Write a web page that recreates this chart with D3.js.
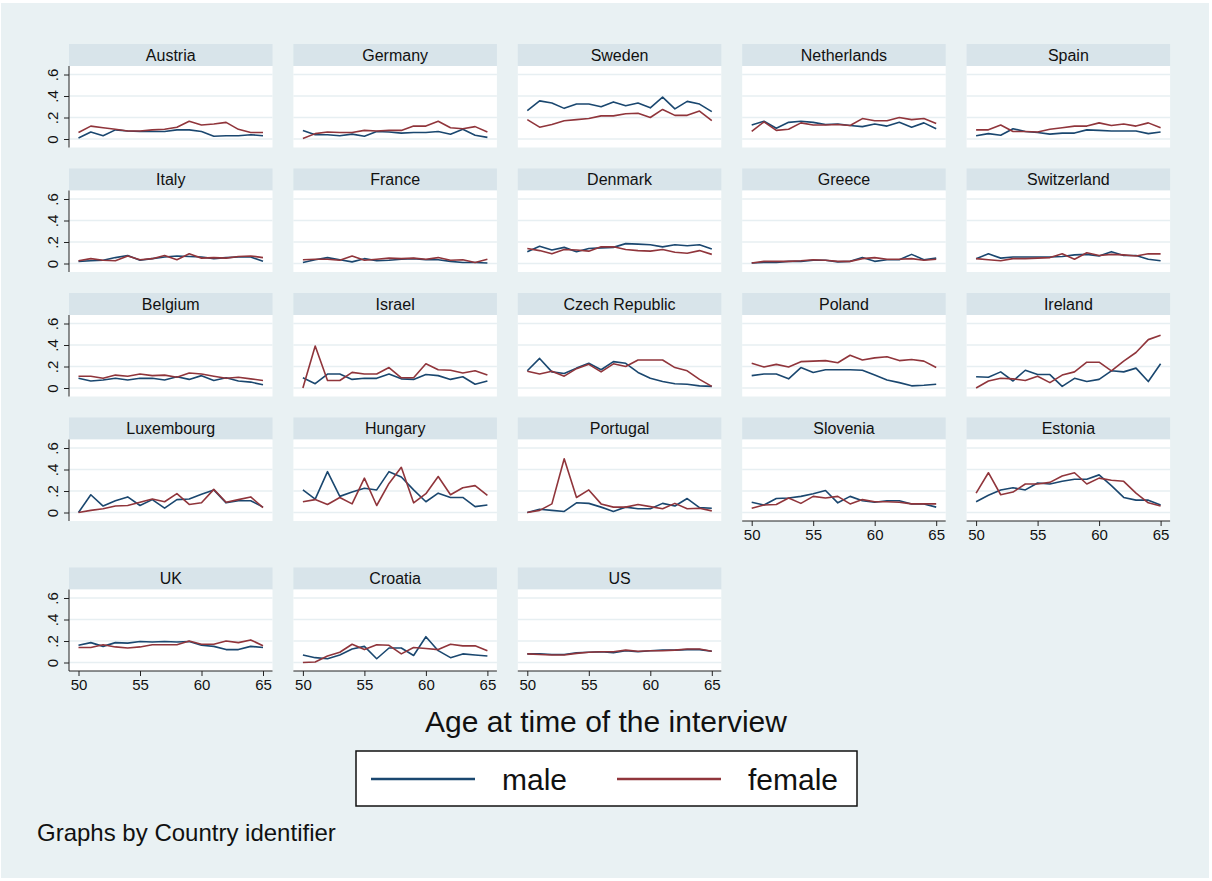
<!DOCTYPE html>
<html>
<head>
<meta charset="utf-8">
<script src="https://cdn.jsdelivr.net/npm/d3@7"></script>
<style>
  html, body { margin: 0; padding: 0; background: #ffffff; }
  svg { display: block; font-family: "Liberation Sans", Arial, sans-serif; }
</style>
</head>
<body>
<svg id="chart" width="1212" height="881"></svg>
<script>
// Share of respondents by age, male vs female, one small panel per country
const ages = [50, 51, 52, 53, 54, 55, 56, 57, 58, 59, 60, 61, 62, 63, 64, 65];

const countries = [
  "Austria", "Germany", "Sweden", "Netherlands", "Spain",
  "Italy", "France", "Denmark", "Greece", "Switzerland",
  "Belgium", "Israel", "Czech Republic", "Poland", "Ireland",
  "Luxembourg", "Hungary", "Portugal", "Slovenia", "Estonia",
  "UK", "Croatia", "US"
];

const male = [
  [.01,.065,.03,.085,.075,.07,.07,.07,.085,.085,.07,.025,.03,.03,.04,.03],        // Austria
  [.08,.04,.04,.03,.045,.025,.07,.065,.055,.06,.06,.07,.045,.09,.035,.015],       // Germany
  [.265,.355,.335,.285,.325,.325,.30,.345,.31,.335,.29,.39,.28,.35,.325,.255],    // Sweden
  [.13,.165,.10,.155,.165,.155,.135,.14,.125,.115,.14,.12,.155,.11,.15,.095],     // Netherlands
  [.03,.05,.035,.095,.07,.06,.045,.055,.055,.085,.08,.075,.075,.075,.05,.065],    // Spain
  [.02,.025,.03,.055,.075,.03,.045,.06,.07,.065,.06,.045,.055,.06,.06,.02],       // Italy
  [.01,.035,.055,.035,.015,.045,.025,.03,.04,.045,.035,.035,.02,.01,.01,.005],    // France
  [.11,.16,.125,.15,.11,.14,.145,.15,.185,.18,.175,.155,.175,.165,.175,.135],     // Denmark
  [.005,.01,.01,.02,.02,.03,.03,.015,.02,.055,.02,.035,.035,.085,.035,.05],       // Greece
  [.045,.09,.05,.06,.06,.06,.06,.065,.08,.085,.07,.11,.075,.075,.04,.025],        // Switzerland
  [.09,.065,.075,.09,.075,.09,.09,.075,.105,.08,.115,.07,.095,.065,.055,.03],     // Belgium
  [.095,.04,.13,.13,.08,.09,.09,.13,.085,.08,.125,.115,.08,.105,.035,.065],       // Israel
  [.16,.275,.15,.135,.185,.23,.17,.245,.23,.145,.09,.06,.04,.035,.02,.015],       // Czech Republic
  [.115,.13,.13,.085,.19,.145,.17,.17,.17,.165,.12,.075,.05,.02,.025,.035],       // Poland
  [.105,.10,.15,.065,.165,.125,.125,.015,.09,.06,.08,.16,.15,.185,.06,.225],      // Ireland
  [0,.165,.06,.11,.145,.065,.12,.04,.12,.125,.17,.21,.09,.11,.11,.05],            // Luxembourg
  [.21,.125,.38,.15,.19,.225,.21,.38,.33,.21,.10,.18,.14,.14,.055,.07],           // Hungary
  [0,.03,.02,.01,.09,.085,.05,.01,.05,.035,.035,.085,.06,.13,.045,.04],           // Portugal
  [.095,.07,.13,.135,.15,.175,.205,.09,.15,.11,.095,.11,.11,.08,.08,.05],         // Slovenia
  [.10,.16,.21,.23,.21,.275,.265,.29,.31,.31,.35,.25,.14,.115,.115,.07],          // Estonia
  [.16,.185,.15,.185,.18,.195,.19,.195,.19,.195,.16,.15,.12,.12,.15,.14],         // UK
  [.07,.045,.035,.07,.125,.15,.035,.135,.135,.065,.24,.11,.045,.08,.07,.06],      // Croatia
  [.08,.08,.075,.075,.09,.095,.10,.09,.11,.10,.11,.115,.115,.12,.12,.105]         // US
];

const female = [
  [.06,.12,.105,.09,.075,.075,.085,.09,.11,.165,.13,.14,.155,.09,.06,.06],        // Austria
  [.005,.05,.065,.06,.06,.08,.075,.08,.08,.12,.12,.165,.105,.095,.115,.065],      // Germany
  [.18,.11,.135,.17,.18,.19,.215,.215,.235,.24,.20,.275,.22,.22,.26,.17],         // Sweden
  [.07,.16,.08,.09,.15,.13,.13,.135,.125,.19,.17,.17,.20,.18,.19,.145],           // Netherlands
  [.085,.085,.13,.07,.07,.065,.09,.105,.12,.12,.15,.125,.14,.12,.15,.105],        // Spain
  [.025,.045,.03,.025,.07,.035,.045,.075,.035,.09,.05,.055,.05,.065,.07,.055],    // Italy
  [.035,.04,.04,.03,.07,.03,.04,.05,.045,.05,.04,.055,.03,.035,.01,.04],          // France
  [.14,.12,.09,.13,.125,.115,.155,.155,.13,.12,.115,.13,.105,.095,.12,.085],      // Denmark
  [.005,.02,.02,.02,.025,.035,.03,.02,.02,.045,.055,.04,.04,.045,.03,.04],        // Greece
  [.045,.035,.025,.045,.045,.05,.055,.09,.04,.10,.075,.085,.08,.07,.09,.09],      // Switzerland
  [.11,.11,.09,.12,.11,.13,.115,.12,.10,.14,.13,.11,.09,.10,.085,.07],            // Belgium
  [0,.39,.07,.07,.145,.13,.13,.19,.095,.095,.225,.17,.165,.14,.16,.12],           // Israel
  [.155,.13,.155,.11,.18,.22,.15,.225,.20,.26,.26,.26,.19,.16,.08,.015],          // Czech Republic
  [.23,.195,.22,.195,.245,.25,.255,.235,.305,.26,.28,.29,.255,.265,.25,.19],      // Poland
  [0,.065,.09,.085,.07,.11,.05,.12,.15,.24,.24,.16,.25,.33,.45,.49],              // Ireland
  [0,.02,.035,.06,.065,.095,.125,.10,.175,.075,.09,.215,.095,.12,.145,.045],      // Luxembourg
  [.10,.12,.075,.14,.08,.32,.065,.27,.42,.09,.175,.335,.165,.23,.25,.16],         // Hungary
  [0,.02,.08,.50,.14,.21,.08,.05,.05,.075,.055,.035,.085,.035,.04,.015],          // Portugal
  [.04,.07,.075,.135,.085,.15,.135,.15,.08,.12,.10,.10,.095,.08,.08,.08],         // Slovenia
  [.18,.37,.165,.19,.265,.265,.28,.34,.37,.265,.32,.30,.29,.18,.09,.06],          // Estonia
  [.14,.14,.165,.145,.135,.145,.165,.165,.165,.20,.17,.17,.20,.185,.21,.155],     // UK
  [0,.005,.06,.095,.17,.12,.165,.16,.08,.14,.13,.12,.17,.155,.155,.11],           // Croatia
  [.08,.075,.07,.07,.085,.095,.10,.10,.115,.105,.11,.11,.115,.125,.125,.105]      // US
];

const xTicks = [50, 55, 60, 65];
const yTicks = [0, .2, .4, .6];
const yTickLabels = ["0", ".2", ".4", ".6"];
const seriesNames = ["male", "female"];

// ---- look ----
const colors = { male: "#1a476f", female: "#90353b" };
const bg = "#e9f1f3", stripFill = "#d8e4ea", gridColor = "#e7eff2";

const nCols = 5;
const colStep = 224.4, panelW = 203.5;
const stripH = 22, panelH = 103.5, rowGap = 21, xAxisH = 25.5;
const left0 = 69, top0 = 44;

const svg = d3.select("#chart");
svg.append("rect").attr("x", 1).attr("y", 3).attr("width", 1208).attr("height", 875).attr("fill", bg);

const nRows = Math.ceil(countries.length / nCols);
// a panel shows an x axis when no panel sits directly below it
const hasAxis = (i) => i + nCols >= countries.length;
const rowTop = [top0];
for (let r = 0; r < nRows - 1; r++) {
  const rowHasAxis = d3.range(r * nCols, Math.min((r + 1) * nCols, countries.length)).some(hasAxis);
  rowTop.push(rowTop[r] + panelH + rowGap + (rowHasAxis ? xAxisH : 0));
}

const line = (x, y) => d3.line().x((d, k) => x(ages[k])).y(d => y(d));

countries.forEach((name, i) => {
  const r = Math.floor(i / nCols), c = i % nCols;
  const left = left0 + c * colStep, top = rowTop[r];
  const g = svg.append("g");

  const x = d3.scaleLinear().domain([50, 65]).range([left + 9.5, left + panelW - 9.5]);
  const y = d3.scaleLinear().domain([0, .6]).range([top + 95, top + 30.5]);

  // title strip
  g.append("rect").attr("x", left).attr("y", top).attr("width", panelW).attr("height", stripH).attr("fill", stripFill);
  g.append("text").attr("x", left + panelW / 2).attr("y", top + 16.5)
    .attr("text-anchor", "middle").attr("font-size", 16).attr("fill", "#111").text(name);

  // plot region
  g.append("rect").attr("x", left).attr("y", top + stripH).attr("width", panelW).attr("height", panelH - stripH).attr("fill", "#fff");
  g.selectAll("line.grid").data(yTicks).join("line")
    .attr("x1", left).attr("x2", left + panelW)
    .attr("y1", d => y(d)).attr("y2", d => y(d))
    .attr("stroke", gridColor).attr("stroke-width", 1.6);

  // series
  g.append("path").datum(male[i]).attr("d", line(x, y)).attr("fill", "none")
    .attr("stroke", colors.male).attr("stroke-width", 1.6).attr("stroke-linejoin", "round");
  g.append("path").datum(female[i]).attr("d", line(x, y)).attr("fill", "none")
    .attr("stroke", colors.female).attr("stroke-width", 1.6).attr("stroke-linejoin", "round");

  // y axis on the first column
  if (c === 0) {
    const ya = g.append("g").attr("transform", `translate(${left},0)`)
      .call(d3.axisLeft(y).tickValues(yTicks).tickSize(5).tickFormat((d, k) => yTickLabels[k]));
    ya.select(".domain").attr("d", `M0,${top + stripH}V${top + panelH}`).attr("stroke", "#222");
    ya.selectAll(".tick line").attr("stroke", "#222");
    ya.selectAll(".tick text")
      .attr("font-size", 15).attr("font-family", "Liberation Sans, Arial, sans-serif").attr("fill", "#111")
      .attr("transform", "rotate(-90)").attr("text-anchor", "middle")
      .attr("x", 0).attr("y", -14).attr("dy", 0);
    // rotate each label about its tick position
    ya.selectAll(".tick text").each(function () {
      d3.select(this).attr("transform", "rotate(-90)").attr("x", 0).attr("y", -11);
    });
  }

  // x axis under the lowest panel of each column
  if (hasAxis(i)) {
    const xa = g.append("g").attr("transform", `translate(0,${top + panelH})`)
      .call(d3.axisBottom(x).tickValues(xTicks).tickSize(5).tickPadding(3).tickFormat(d3.format("d")));
    xa.select(".domain").attr("d", `M${left},0H${left + panelW}`).attr("stroke", "#222");
    xa.selectAll(".tick line").attr("stroke", "#222");
    xa.selectAll(".tick text").attr("font-size", 15).attr("font-family", "Liberation Sans, Arial, sans-serif").attr("fill", "#111");
  }
});

// shared axis title
svg.append("text").attr("x", 606).attr("y", 732).attr("text-anchor", "middle")
  .attr("font-size", 30).attr("fill", "#111").text("Age at time of the interview");

// legend
const legend = svg.append("g");
legend.append("rect").attr("x", 356).attr("y", 751).attr("width", 501).attr("height", 55)
  .attr("fill", "#fff").attr("stroke", "#111").attr("stroke-width", 1.5);
const legendX = d3.scalePoint().domain(seriesNames).range([371, 617]);
seriesNames.forEach(s => {
  const lx = legendX(s);
  legend.append("line").attr("x1", lx).attr("x2", lx + 104).attr("y1", 779).attr("y2", 779)
    .attr("stroke", colors[s]).attr("stroke-width", 2.4);
  legend.append("text").attr("x", lx + 131).attr("y", 790).attr("font-size", 30).attr("fill", "#111").text(s);
});

// note
svg.append("text").attr("x", 37).attr("y", 841).attr("font-size", 24).attr("fill", "#111").text("Graphs by Country identifier");
</script>
</body>
</html>
